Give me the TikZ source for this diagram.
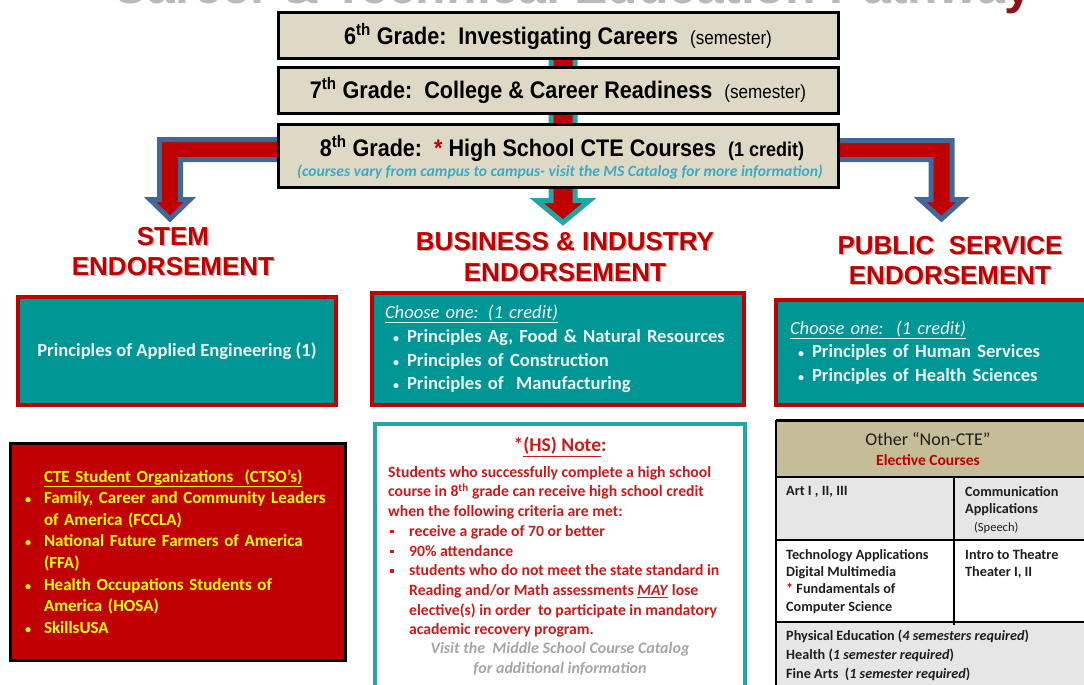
\documentclass[tikz,border=0pt]{standalone}
\usepackage{fontspec}
\setmainfont{Carlito}
\newfontfamily\narrowfont[FakeStretch=0.9]{Liberation Sans}
\newfontfamily\artfont{Liberation Sans}
\pgfdeclarelayer{background}
\pgfsetlayers{background,main}
\definecolor{ctered}{RGB}{192,0,0}
\definecolor{cteteal}{RGB}{0,150,150}
\definecolor{beige}{RGB}{221,217,196}
\definecolor{arrowblue}{RGB}{65,104,150}
\definecolor{arrowteal}{RGB}{35,165,165}
\definecolor{notered}{RGB}{205,25,25}
\definecolor{noteblue}{RGB}{60,170,195}
\definecolor{boxwhite}{RGB}{235,245,240}
\definecolor{ctsoyellow}{RGB}{255,255,0}
\definecolor{tanhead}{RGB}{196,189,151}
\definecolor{rowgray}{RGB}{230,230,230}
\definecolor{titlegray}{RGB}{185,185,185}
\definecolor{titlered}{RGB}{140,20,20}
\definecolor{visitgray}{RGB}{165,165,165}
\definecolor{tabtext}{RGB}{30,30,30}
\newcommand{\fs}[2]{\fontsize{#1}{#2}\selectfont}
\newcommand{\art}[1]{\rlap{\kern1.5pt\raisebox{-1.5pt}{\color{black!30}#1}}#1}
\newcommand{\smallbul}{{\fs{12}{12}\textbullet}}
\newcommand{\bul}{\hspace*{8pt}\makebox[14pt][l]{\smallbul}}
\newcommand{\sqbul}{\makebox[21pt][l]{\hspace{2pt}\rule[3pt]{3.5pt}{3.5pt}}}

\begin{document}
\begin{tikzpicture}[x=1pt,y=-1pt,
  gradebox/.style={draw=black,line width=3pt,fill=beige,minimum width=560pt,inner sep=0pt,
    font=\narrowfont\bfseries\fs{24}{28}},
  fatarrow/.style={fill=ctered,draw=arrowblue,line width=5pt,line join=miter},
  tealarrow/.style={fill=ctered,draw=arrowteal,line width=5pt,line join=miter},
  arttitle/.style={align=center,text=ctered,inner sep=0pt,font=\artfont\bfseries\fs{26}{30}},
  tealbox/.style={draw=ctered,line width=4pt,fill=cteteal,text=boxwhite,
    font=\bfseries\fs{18.6}{23.7}},
  tabcell/.style={anchor=north west,align=left,inner sep=0pt,text=tabtext,font=\bfseries\fs{14.2}{17.3}}]
\useasboundingbox (0,0) rectangle (1084,685);
\clip (0,0) rectangle (1084,685);

\node[anchor=base,inner sep=0pt,text=titlegray,font=\artfont\bfseries\fs{50}{50}] (title) at (572,4)
  {Career \& Technical Education Pathwa\textcolor{titlered}{y}};

\node[gradebox,minimum height=46pt] (g6) at (558,36)
  {6\textsuperscript{th} Grade:\ \ Investigating Careers\ \ {\mdseries\fs{19}{24}(semester)}};
\node[gradebox,minimum height=45pt] (g7) at (558,90.5)
  {7\textsuperscript{th} Grade:\ \ College \& Career Readiness\ \ {\mdseries\fs{19}{24}(semester)}};
\node[gradebox,minimum height=63pt] (g8) at (558,155.5) {};
\node[inner sep=0pt,font=\narrowfont\bfseries\fs{24}{28}] (g8a) at (562,148)
  {8\textsuperscript{th} Grade:\ \ \textcolor{ctered}{*} High School CTE Courses\ \ {\fs{20}{24}(1 credit)}};
\node[inner sep=0pt,text=noteblue,font=\bfseries\itshape\fs{15.6}{18}] (g8b) at (560,172)
  {(courses vary from campus to campus- visit the MS Catalog for more information)};

\coordinate (stemTip) at (170,219);
\coordinate (busTip) at (563,222.5);
\coordinate (psTip) at (941.5,219);
\begin{pgfonlayer}{background}
\draw[tealarrow] (g6.center -| 551,0) -- (551,200.5) -- (536.5,200.5) -- (busTip)
  -- (589.5,200.5) -- (575,200.5) -- (g6.center -| 575,0) -- cycle;
\draw[fatarrow] (g8.center |- 0,139.5) -- (159.5,139.5) -- (159.5,199.5) -- (150,199.5) -- (stemTip)
  -- (190,199.5) -- (180.5,199.5) -- (180.5,159.5) -- (g8.center |- 0,159.5) -- cycle;
\draw[fatarrow] (g8.center |- 0,140.5) -- (952,140.5) -- (952,199.5) -- (963,199.5) -- (psTip)
  -- (920,199.5) -- (931,199.5) -- (931,159.5) -- (g8.center |- 0,159.5) -- cycle;
\end{pgfonlayer}

\node[arttitle] (stemT) at (173,252) {\art{STEM}\\\art{ENDORSEMENT}};
\node[arttitle,font=\artfont\bfseries\fs{26}{31}] (busT) at (565,257.5) {\art{BUSINESS \& INDUSTRY}\\\art{ENDORSEMENT}};
\node[arttitle] (psT) at (950,261) {\art{PUBLIC\ \ SERVICE}\\\art{ENDORSEMENT}};

\node[tealbox,minimum width=318pt,minimum height=108pt] (stemB) at (177,351)
  {Principles of Applied Engineering (1)};
\node[tealbox,minimum width=372pt,minimum height=112pt,inner xsep=13pt,text width=346pt,align=left] (busB) at (558,349)
  {{\mdseries\itshape\underline{Choose one: (1 credit)}}\\
   \bul Principles Ag, Food \& Natural Resources\\
   \bul Principles of Construction\\
   \bul Principles of\ \ Manufacturing};
\node[tealbox,minimum width=319pt,minimum height=105pt,inner xsep=14pt,text width=291pt,align=left] (psB) at (935.5,352.5)
  {{\mdseries\itshape\underline{Choose one:\ \ (1 credit)}}\\
   \bul Principles of Human Services\\
   \bul Principles of Health Sciences};

\node[draw=black,line width=3pt,fill=ctered,minimum width=335pt,minimum height=217pt,inner xsep=15pt,
  text width=305pt,align=left,text=ctsoyellow,font=\bfseries\fs{17}{21.6}] (ctso) at (177.5,551.5)
  {\hspace*{19pt}\underline{CTE Student Organizations\ \ (CTSO’s)}\\
   \makebox[19pt][l]{\smallbul}Family, Career and Community Leaders\\
   \hspace*{19pt}of America (FCCLA)\\
   \makebox[19pt][l]{\smallbul}National Future Farmers of America\\
   \hspace*{19pt}(FFA)\\
   \makebox[19pt][l]{\smallbul}Health Occupations Students of\\
   \hspace*{19pt}America (HOSA)\\
   \makebox[19pt][l]{\smallbul}SkillsUSA};

\node[draw=arrowteal,line width=4pt,fill=white,minimum width=370pt,minimum height=290pt] (note) at (560,569) {};
\node[inner sep=0pt,text=notered,font=\bfseries\fs{19.5}{22}] (notehead) at (560,447) {*\underline{(HS) Note}:};
\node[anchor=north west,inner sep=0pt,align=left,text=notered,font=\bfseries\fs{15.7}{19.7}] (notetxt) at (388,466)
  {Students who successfully complete a high school\\
   course in 8\textsuperscript{th} grade can receive high school credit\\
   when the following criteria are met:\\
   \sqbul receive a grade of 70 or better\\
   \sqbul 90\% attendance\\
   \sqbul students who do not meet the state standard in\\
   \hspace*{21pt}Reading and/or Math assessments \underline{\textit{MAY}} lose\\
   \hspace*{21pt}elective(s) in order\ \ to participate in mandatory\\
   \hspace*{21pt}academic recovery program.};
\node[inner sep=0pt,align=center,text=visitgray,font=\bfseries\itshape\fs{16}{20}] (visit) at (560,659)
  {Visit the\ \ Middle School Course Catalog\\for additional information};

\fill[tanhead] (776,420) rectangle (1090,477);
\fill[rowgray] (776,477) rectangle (1090,540);
\fill[rowgray] (776,622) rectangle (1090,690);
\draw[line width=3pt] (776,420) -- (1090,420);
\draw[line width=1.2pt] (776,420) -- (776,690);
\draw[line width=1.5pt] (776,477) -- (1090,477);
\draw[line width=1.5pt] (776,540) -- (1090,540);
\draw[line width=1.5pt] (776,622) -- (1090,622);
\draw[line width=1.5pt] (954,477) -- (954,625);
\node[inner sep=0pt,text=tabtext,font=\fs{18}{20}] (other) at (928,439) {Other “Non-CTE”};
\node[inner sep=0pt,text=ctered,font=\bfseries\fs{15.5}{18}] (elect) at (928,460) {Elective Courses};
\node[tabcell] (art) at (786,486) {Art I , II, III};
\node[tabcell,font=\bfseries\fs{14.2}{17.5}] (comm) at (965,486)
  {Communication\\Applications\\\hspace*{9pt}{\mdseries\fs{12.5}{17.5}(Speech)}};
\node[tabcell] (tech) at (786,549)
  {Technology Applications\\Digital Multimedia\\\textcolor{ctered}{*} Fundamentals of\\Computer Science};
\node[tabcell] (theatre) at (965,549) {Intro to Theatre\\Theater I, II};
\node[tabcell,font=\bfseries\fs{14.2}{19}] (pe) at (786,630)
  {Physical Education (\textit{4 semesters required})\\
   Health (\textit{1 semester required})\\
   Fine Arts\ \ (\textit{1 semester required})};
\end{tikzpicture}
\end{document}
